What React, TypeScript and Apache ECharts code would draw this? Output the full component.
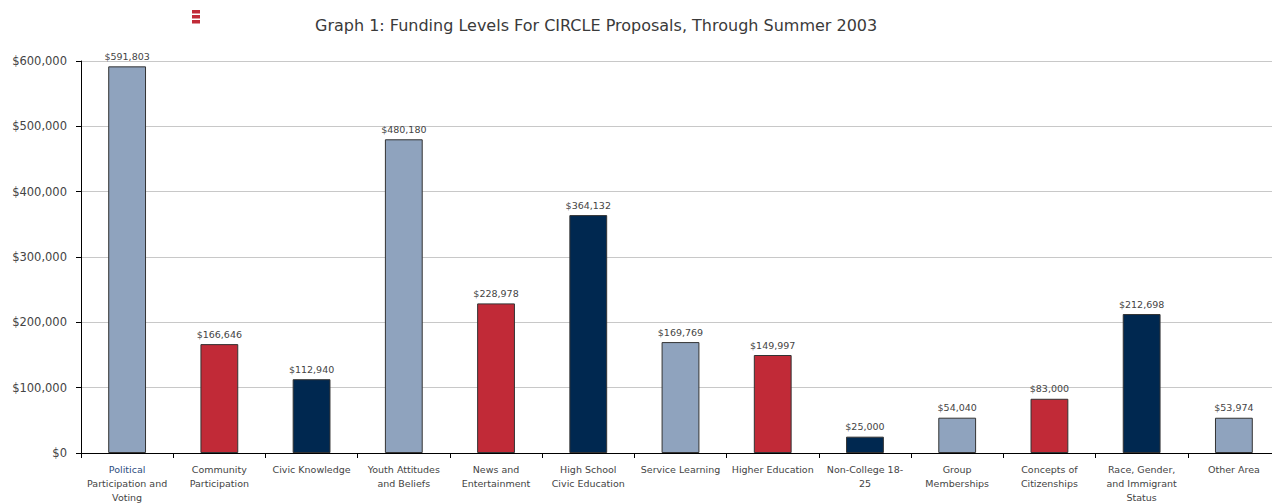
import React, { useEffect, useRef } from "react";
import * as echarts from "echarts";

const categories = [
  "{hl|Political}\nParticipation and\nVoting",
  "Community\nParticipation",
  "Civic Knowledge",
  "Youth Attitudes\nand Beliefs",
  "News and\nEntertainment",
  "High School\nCivic Education",
  "Service Learning",
  "Higher Education",
  "Non-College 18-\n25",
  "Group\nMemberships",
  "Concepts of\nCitizenships",
  "Race, Gender,\nand Immigrant\nStatus",
  "Other Area",
];
const values = [591803, 166646, 112940, 480180, 228978, 364132, 169769, 149997, 25000, 54040, 83000, 212698, 53974];
const palette = ["#8fa3be", "#c12a37", "#002850"];
const titleText = "Graph 1: Funding Levels For CIRCLE Proposals, Through Summer 2003";

const fmt = (v: number) => "$" + v.toLocaleString("en-US");

export default function App() {
  const ref = useRef<HTMLDivElement>(null);
  useEffect(() => {
    if (!ref.current) return;
    const chart = echarts.init(ref.current, null, { renderer: "svg" });
    chart.setOption({
      animation: false,
      textStyle: { fontFamily: "DejaVu Sans" },
      title: {
        text: titleText,
        left: 302,
        top: 4,
        textStyle: { fontSize: 16, fontWeight: "normal", color: "#3a3a3a", fontFamily: "DejaVu Sans" },
      },
      graphic: [
        { type: "rect", shape: { x: 184, y: 2, width: 8, height: 3.5 }, style: { fill: "#c12a37" } },
        { type: "rect", shape: { x: 184, y: 7, width: 8, height: 3.5 }, style: { fill: "#c12a37" } },
        { type: "rect", shape: { x: 184, y: 12, width: 8, height: 3.5 }, style: { fill: "#c12a37" } },
      ],
      grid: { left: 73, right: 0, top: 53, bottom: 50, containLabel: false },
      xAxis: {
        type: "category",
        data: categories,
        axisLine: { lineStyle: { color: "#000" } },
        axisTick: { show: true, length: 5, lineStyle: { color: "#000" } },
        axisLabel: {
          interval: 0,
          fontSize: 9.5,
          color: "#444",
          lineHeight: 14,
          margin: 9,
          rich: { hl: { color: "#2e4e80", fontSize: 9.5, lineHeight: 14 } },
        },
      },
      yAxis: {
        type: "value",
        min: 0,
        max: 600000,
        interval: 100000,
        axisLine: { show: true, lineStyle: { color: "#000" } },
        axisTick: { show: true, length: 5, lineStyle: { color: "#000" } },
        splitLine: { lineStyle: { color: "#c8c8c8" } },
        axisLabel: {
          fontSize: 11.5,
          color: "#444",
          margin: 14,
          formatter: (v: number) => fmt(v),
        },
      },
      series: [
        {
          type: "bar",
          barWidth: "41%",
          data: values.map((v, i) => ({
            value: v,
            itemStyle: { color: palette[i % 3], borderColor: "#333", borderWidth: 1 },
          })),
          label: {
            show: true,
            position: "top",
            distance: 5,
            fontSize: 9.5,
            color: "#444",
            formatter: (p: any) => fmt(p.value),
          },
        },
      ],
    });
    return () => chart.dispose();
  }, []);
  return <div ref={ref} style={{ width: 1272, height: 496 }} />;
}
